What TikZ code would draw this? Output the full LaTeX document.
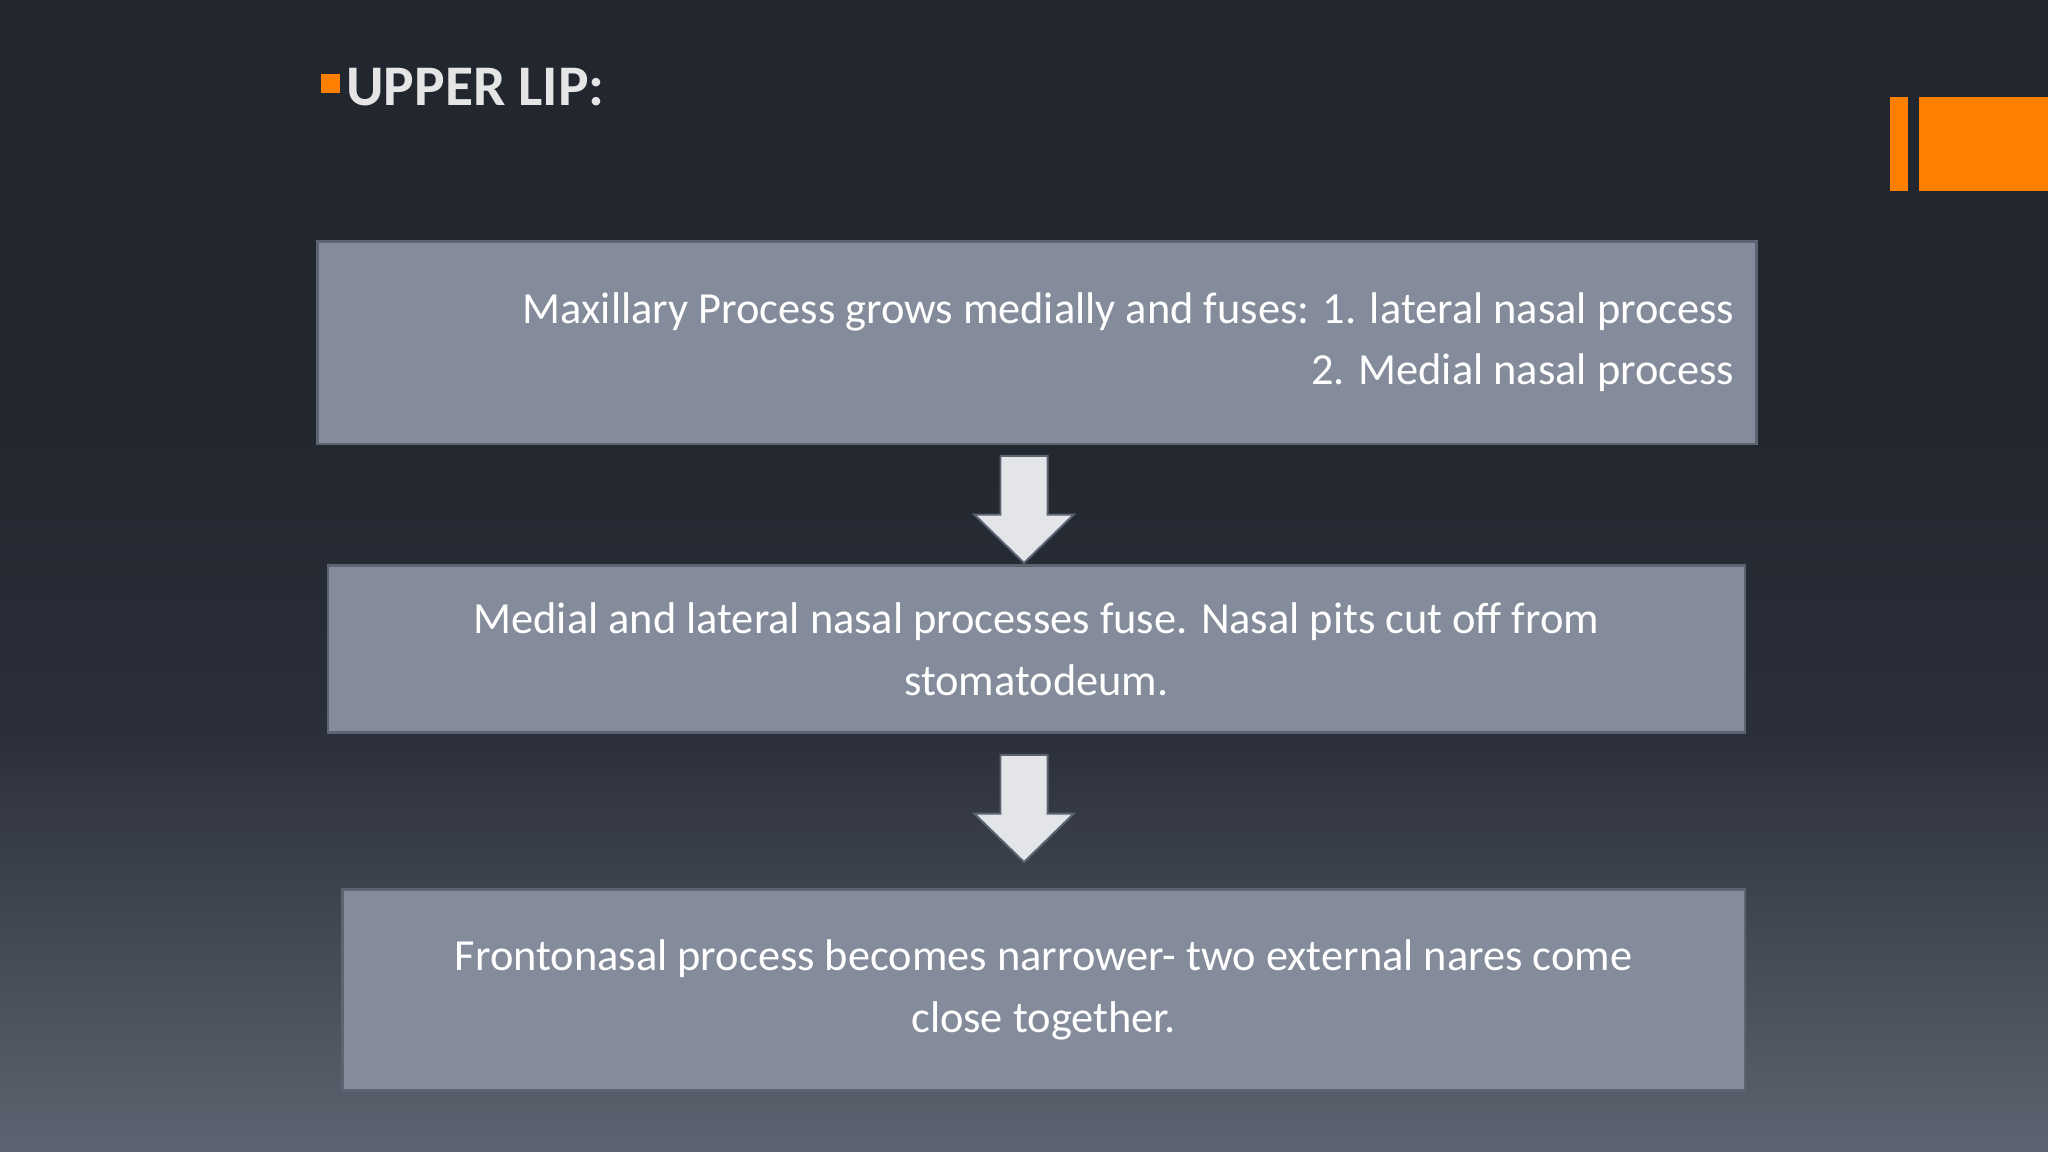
\documentclass[tikz,border=0pt]{standalone}
\usepackage{fontspec}
\setmainfont{Carlito}
\usetikzlibrary{calc}
\definecolor{bgtop}{HTML}{22262E}
\definecolor{bgmid}{HTML}{2B2F3A}
\definecolor{bgbot}{HTML}{5B6470}
\definecolor{boxfill}{HTML}{848C9B}
\definecolor{boxline}{HTML}{5C6472}
\definecolor{orng}{HTML}{FF8000}
\definecolor{arr}{HTML}{E4E5E9}
\begin{document}
\begin{tikzpicture}[x=1pt,y=-1pt,
  stepbox/.style={draw=boxline,line width=2pt,fill=boxfill,text=white,font=\fontsize{34}{47}\selectfont,inner sep=0pt},
  blockarrow/.style={fill=arr,draw=boxline,line width=1.5pt}]
\useasboundingbox (0,0) rectangle (1568,882);
\shade[top color=bgtop,bottom color=bgbot,middle color=bgmid] (0,0) rectangle (1568,882);
\fill[bgtop] (0,0) rectangle (1568,300);
\shade[top color=bgtop,bottom color=bgmid] (0,300) rectangle (1568,560);
\shade[top color=bgmid,bottom color=bgbot] (0,560) rectangle (1568,882);
\fill[orng] (246,57) rectangle (260,71);
\fill[orng] (1447,74) rectangle (1461,146);
\fill[orng] (1469,74) rectangle (1568,146);
\node[anchor=west,text=white!80!gray,font=\bfseries\fontsize{44}{50}\selectfont,inner sep=0pt] (title) at (265,67) {UPPER LIP:};
\node[stepbox,minimum width=1102pt,minimum height=155pt,anchor=north west] (b1) at (242,184) {};
\node[align=right,text=white,font=\fontsize{34}{47}\selectfont,anchor=east,inner sep=0pt] (t1) at (1328,262) {Maxillary Process grows medially and fuses: 1. lateral nasal process\\2. Medial nasal process};
\node[stepbox,minimum width=1085pt,minimum height=128pt,anchor=north west] (b2) at (250,432) {};
\node[align=center,text=white,font=\fontsize{34}{47}\selectfont,inner sep=0pt] (t2) at (b2.center) {Medial and lateral nasal processes fuse. Nasal pits cut off from\\stomatodeum.};
\node[stepbox,minimum width=1074pt,minimum height=154pt,anchor=north west] (b3) at (261,680) {};
\node[align=center,text=white,font=\fontsize{34}{47}\selectfont,inner sep=0pt] (t3) at (b3.center) {Frontonasal process becomes narrower- two external nares come\\close together.};
\coordinate (a1) at (784,349);
\coordinate (a2) at (784,578);
\foreach \a in {a1,a2}{
  \draw[blockarrow] ($(\a)+(-18,0)$) -- ($(\a)+(18,0)$) -- ($(\a)+(18,45)$) -- ($(\a)+(38,45)$) -- ($(\a)+(0,82)$) -- ($(\a)+(-38,45)$) -- ($(\a)+(-18,45)$) -- cycle;
}
\end{tikzpicture}
\end{document}
